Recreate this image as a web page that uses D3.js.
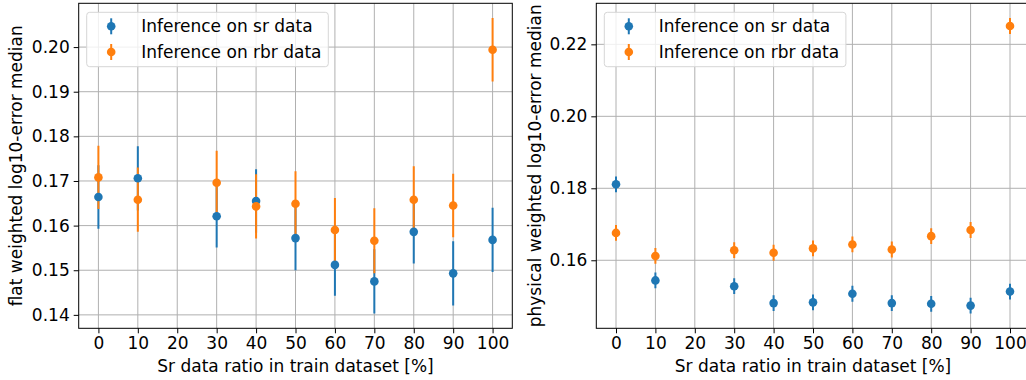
<!DOCTYPE html>
<html><head><meta charset="utf-8">
<script src="https://cdn.jsdelivr.net/npm/d3@7"></script>
<style>
body{margin:0;background:#fff;}
svg{display:block;font-family:"DejaVu Sans",sans-serif;}
</style></head><body>
<svg id="c" width="1026" height="380"></svg>
<script>
const ratios = [0,10,30,40,50,60,70,80,90,100];
const xTicks = [0,10,20,30,40,50,60,70,80,90,100];
const flatSr = [0.1664,0.1706,0.1621,0.1655,0.1572,0.1512,0.1475,0.1586,0.1493,0.1568];
const flatSrErr = [0.0071,0.0072,0.0070,0.0071,0.0072,0.0069,0.0072,0.0071,0.0072,0.0072];
const flatRbr = [0.1708,0.1658,0.1696,0.1643,0.1649,0.1590,0.1566,0.1658,0.1645,0.1994];
const flatRbrErr = [0.0071,0.0072,0.0072,0.0072,0.0073,0.0072,0.0073,0.0075,0.0071,0.0071];
const physSr = [0.1811,0.1544,0.1528,0.1481,0.1483,0.1507,0.1481,0.1479,0.1474,0.1513];
const physSrErr = [0.0022,0.0022,0.0022,0.0022,0.0022,0.0022,0.0022,0.0022,0.0022,0.0022];
const physRbr = [0.1676,0.1612,0.1628,0.1621,0.1633,0.1644,0.1630,0.1667,0.1684,0.2251];
const physRbrErr = [0.0022,0.0022,0.0022,0.0022,0.0022,0.0022,0.0022,0.0022,0.0022,0.0022];
const flatYTicks = [0.14,0.15,0.16,0.17,0.18,0.19,0.20];
const physYTicks = [0.16,0.18,0.20,0.22];
const seriesNames = ["Inference on sr data","Inference on rbr data"];
const colors = ["#1f77b4","#ff7f0e"];
const xLabel = "Sr data ratio in train dataset [%]";

const svg = d3.select("#c");
const FS = 17;

function panel(opts){
  const {x0,x1,y0,y1,series,yTicks,yLabel,yLabelX} = opts;
  const g = svg.append("g");
  const x = d3.scaleLinear().domain([-5,105]).range([x0,x1]);
  let lo = Infinity, hi = -Infinity;
  series.forEach(s=>s.v.forEach((v,i)=>{lo=Math.min(lo,v-s.e[i]);hi=Math.max(hi,v+s.e[i]);}));
  const pad=(hi-lo)*0.05;
  const y = d3.scaleLinear().domain([lo-pad,hi+pad]).range([y1,y0]);
  const cid = "clip"+Math.round(x0);
  svg.append("clipPath").attr("id",cid).append("rect").attr("x",x0).attr("y",y0).attr("width",x1-x0).attr("height",y1-y0);
  const grid = g.append("g").attr("clip-path",`url(#${cid})`);
  grid.selectAll(".gx").data(xTicks).join("line").attr("x1",d=>x(d)).attr("x2",d=>x(d)).attr("y1",y0).attr("y2",y1).attr("stroke","#b0b0b0").attr("stroke-width",1);
  grid.selectAll(".gy").data(yTicks).join("line").attr("y1",d=>y(d)).attr("y2",d=>y(d)).attr("x1",x0).attr("x2",x1).attr("stroke","#b0b0b0").attr("stroke-width",1);
  const data = g.append("g").attr("clip-path",`url(#${cid})`);
  series.forEach((s,k)=>{
    data.append("g").selectAll("line").data(ratios).join("line")
      .attr("x1",d=>x(d)).attr("x2",d=>x(d))
      .attr("y1",(d,i)=>y(s.v[i]-s.e[i])).attr("y2",(d,i)=>y(s.v[i]+s.e[i]))
      .attr("stroke",colors[k]).attr("stroke-width",2);
  });
  series.forEach((s,k)=>{
    data.append("g").selectAll("circle").data(ratios).join("circle")
      .attr("cx",d=>x(d)).attr("cy",(d,i)=>y(s.v[i])).attr("r",4.3).attr("fill",colors[k]);
  });
  const ax = g.append("g").attr("transform",`translate(0,${y1})`).call(d3.axisBottom(x).tickValues(xTicks).tickFormat(d3.format("d")).tickSize(5).tickPadding(4));
  const ay = g.append("g").attr("transform",`translate(${x0},0)`).call(d3.axisLeft(y).tickValues(yTicks).tickFormat(d3.format(".2f")).tickSize(5).tickPadding(4));
  [ax,ay].forEach(a=>{a.select(".domain").remove();a.selectAll("text").attr("font-size",FS).attr("fill","#000").attr("font-family","DejaVu Sans");a.selectAll("line").attr("stroke","#000").attr("stroke-width",1);});
  g.append("rect").attr("x",x0).attr("y",y0).attr("width",x1-x0).attr("height",y1-y0).attr("fill","none").attr("stroke","#000").attr("stroke-width",1);
  g.append("text").attr("x",(x(-5)+x(105))/2).attr("y",372).attr("text-anchor","middle").attr("font-size",FS).text(xLabel);
  g.append("text").attr("transform",`translate(${yLabelX},${(y0+y1)/2}) rotate(-90)`).attr("text-anchor","middle").attr("dominant-baseline","central").attr("font-size",FS).text(yLabel);
  const lx = x0+8, ly = y0+9;
  const lg = g.append("g");
  lg.append("rect").attr("x",lx).attr("y",ly).attr("width",241.6).attr("height",54.4).attr("rx",3).attr("fill","#fff").attr("fill-opacity",0.8).attr("stroke","#d6d6d6");
  seriesNames.forEach((n,k)=>{
    const cy = ly+14+k*25.7;
    lg.append("line").attr("x1",lx+24.5).attr("x2",lx+24.5).attr("y1",cy-8).attr("y2",cy+8).attr("stroke",colors[k]).attr("stroke-width",2);
    lg.append("circle").attr("cx",lx+24.5).attr("cy",cy).attr("r",4.3).attr("fill",colors[k]);
    lg.append("text").attr("x",lx+54.5).attr("y",cy).attr("dominant-baseline","central").attr("font-size",FS).text(n);
  });
}

panel({x0:78.7,x1:512.3,y0:3.3,y1:328.3,
  series:[{v:flatSr,e:flatSrErr},{v:flatRbr,e:flatRbrErr}],
  yTicks:flatYTicks,yLabel:"flat weighted log10-error median",yLabelX:16});
panel({x0:596.3,x1:1029.7,y0:3.3,y1:328.3,
  series:[{v:physSr,e:physSrErr},{v:physRbr,e:physRbrErr}],
  yTicks:physYTicks,yLabel:"physical weighted log10-error median",yLabelX:535});
</script></body></html>
